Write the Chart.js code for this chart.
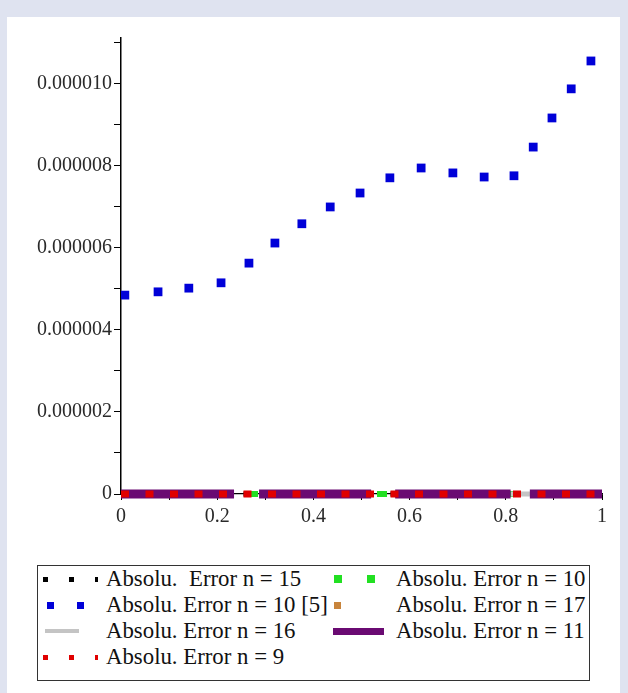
<!DOCTYPE html>
<html>
<head>
<meta charset="utf-8">
<script src="https://cdn.jsdelivr.net/npm/chart.js@4.4.1/dist/chart.umd.min.js"></script>
<style>
  html, body { margin: 0; padding: 0; }
  body {
    width: 628px; height: 693px; overflow: hidden; position: relative;
    background: #dfe3f0;
    font-family: "Liberation Serif", "Times New Roman", serif;
  }
  #panel { position: absolute; left: 7px; top: 17px; width: 613px; height: 690px; background: #fff; }
  #chart { position: absolute; left: 0; top: 0; }
  #legend {
    position: absolute; left: 30px; top: 548px; width: 553px; height: 116px;
    box-sizing: border-box; border: 1.5px solid #333;
    display: grid; grid-template-columns: 68px 227px 63px 1fr; grid-auto-rows: 26px;
    align-items: center; font-size: 22.8px; color: #111; white-space: pre;
  }
  .sym { height: 5px; }
</style>
</head>
<body>
<div id="panel">
  <canvas id="chart" width="611" height="540"></canvas>
  <div id="legend"></div>
</div>
<script>
// x positions of the n = 10 [5] error curve (blue dots)
const blueX = [0.008, 0.077, 0.141, 0.208, 0.266, 0.320, 0.376, 0.435, 0.497,
               0.559, 0.624, 0.690, 0.755, 0.817, 0.857, 0.896, 0.936, 0.977];
const blueY = [4.85e-6, 4.93e-6, 5.02e-6, 5.15e-6, 5.63e-6, 6.12e-6, 6.59e-6, 7.00e-6, 7.34e-6,
               7.71e-6, 7.95e-6, 7.83e-6, 7.73e-6, 7.76e-6, 8.46e-6, 9.17e-6, 9.88e-6, 10.56e-6];

// the other errors are all ~0 at this scale
const zeroX = [0, 0.1, 0.2, 0.3, 0.4, 0.5, 0.6, 0.7, 0.8, 0.9, 1];
const errN15 = [0, 0, 0, 0, 0, 0, 0, 0, 0, 0, 0];
const errN10 = [0, 0, 0, 0, 0, 0, 0, 0, 0, 0, 0];
const errN17 = [0, 0, 0, 0, 0, 0, 0, 0, 0, 0, 0];
const errN16 = [0, 0, 0, 0, 0, 0, 0, 0, 0, 0, 0];
const errN9  = [0, 0, 0, 0, 0, 0, 0, 0, 0, 0, 0];
// n = 11 is drawn in pieces (gaps visible in the picture)
const n11X = [0, 0.235, 0.26, 0.287, 0.52, 0.545, 0.57, 0.81, 0.83, 0.85, 1];
const errN11 = [0, 0, null, 0, 0, null, 0, 0, null, 0, 0];

const yTicks = ["0", "0.000002", "0.000004", "0.000006", "0.000008", "0.000010"];
const xTicks = ["0", "0.2", "0.4", "0.6", "0.8", "1"];

const pts = (xs, ys) => xs.map((x, i) => ({ x: x, y: ys[i] }));

const lineSet = (label, xs, ys, color, width, dash, dashOffset, order) => ({
  label: label, data: pts(xs, ys), showLine: true, pointRadius: 0,
  borderColor: color, backgroundColor: color, borderWidth: width,
  borderDash: dash, borderDashOffset: dashOffset, spanGaps: false,
  clip: false, order: order
});

const tickFont = { family: "Liberation Serif", size: 20 };

new Chart(document.getElementById("chart"), {
  type: "scatter",
  data: {
    datasets: [
      lineSet("Absolu.  Error n = 15", zeroX, errN15, "#000000", 5, [6, 18.5], 0, 5),
      lineSet("Absolu. Error n = 10", zeroX, errN10, "#22e022", 6, [10, 119], 2, 3),
      {
        label: "Absolu. Error n = 10 [5]", data: pts(blueX, blueY), showLine: false,
        pointStyle: "rect", pointRadius: 6.2, borderWidth: 0,
        backgroundColor: "#0000d8", borderColor: "#0000d8", order: -1
      },
      lineSet("Absolu. Error n = 17", zeroX, errN17, "#c8843c", 5, [6, 200], 0, 4),
      lineSet("Absolu. Error n = 16", zeroX, errN16, "#c4c4c4", 5, [19, 176], 0, 2),
      lineSet("Absolu. Error n = 11", n11X, errN11, "#6a0a72", 9, [], 0, 1),
      lineSet("Absolu. Error n = 9", zeroX, errN9, "#e00000", 7, [8, 16.5], 0, 0)
    ]
  },
  options: {
    responsive: false,
    animation: false,
    layout: { padding: { top: 21, right: 16, left: 0, bottom: 0 } },
    plugins: { legend: { display: false }, tooltip: { enabled: false } },
    scales: {
      x: {
        type: "linear", min: 0, max: 1,
        afterFit: s => { s.height = 63; },
        grid: { drawOnChartArea: false, drawTicks: true, tickLength: 6, tickColor: "#000" },
        border: { display: true, color: "#000", width: 1.2 },
        ticks: {
          stepSize: 0.1, autoSkip: false, maxRotation: 0, padding: 5,
          color: "#2a2a2a", font: tickFont,
          callback: v => {
            const k = Math.round(v * 10);
            return k % 2 ? "" : xTicks[k / 2];
          }
        }
      },
      y: {
        type: "linear", min: 0, max: 1.112e-5,
        afterFit: s => { s.width = 114; },
        grid: { drawOnChartArea: false, drawTicks: true, tickLength: 7, tickColor: "#000" },
        border: { display: true, color: "#000", width: 1.5 },
        ticks: {
          stepSize: 1e-6, includeBounds: false, autoSkip: false, padding: 2,
          color: "#2a2a2a", font: tickFont,
          callback: v => {
            const k = Math.round(v * 1e6);
            return k % 2 ? "" : (yTicks[k / 2] || "");
          }
        }
      }
    }
  }
});

// legend box, two columns like the original
const legendItems = [
  { text: "Absolu.  Error n = 15", sym: "dots", color: "#000", ml: 4.5, size: 5, period: 26, w: 55 },
  { text: "Absolu. Error n = 10", sym: "dots", color: "#22e022", ml: 0.5, size: 8, period: 33, w: 41 },
  { text: "Absolu. Error n = 10 [5]", sym: "dots", color: "#0000d8", ml: 8.5, size: 7, period: 30, w: 37 },
  { text: "Absolu. Error n = 17", sym: "dots", color: "#c8843c", ml: 0.5, size: 7, period: 40, w: 7 },
  { text: "Absolu. Error n = 16", sym: "line", color: "#c4c4c4", ml: 6.5, size: 4, w: 34 },
  { text: "Absolu. Error n = 11", sym: "line", color: "#6a0a72", ml: 0, size: 7, w: 51 },
  { text: "Absolu. Error n = 9", sym: "dots", color: "#e00000", ml: 4.5, size: 5, period: 26, w: 55 }
];
const legend = document.getElementById("legend");
legendItems.forEach(it => {
  const cell = document.createElement("div");
  const s = document.createElement("div");
  s.className = "sym";
  s.style.marginLeft = it.ml + "px";
  s.style.width = it.w + "px";
  s.style.height = it.size + "px";
  s.style.background = it.sym === "line" ? it.color :
    `repeating-linear-gradient(90deg, ${it.color} 0 ${it.size}px, transparent ${it.size}px ${it.period}px)`;
  cell.appendChild(s);
  const t = document.createElement("div");
  t.textContent = it.text;
  legend.appendChild(cell);
  legend.appendChild(t);
});
</script>
</body>
</html>
